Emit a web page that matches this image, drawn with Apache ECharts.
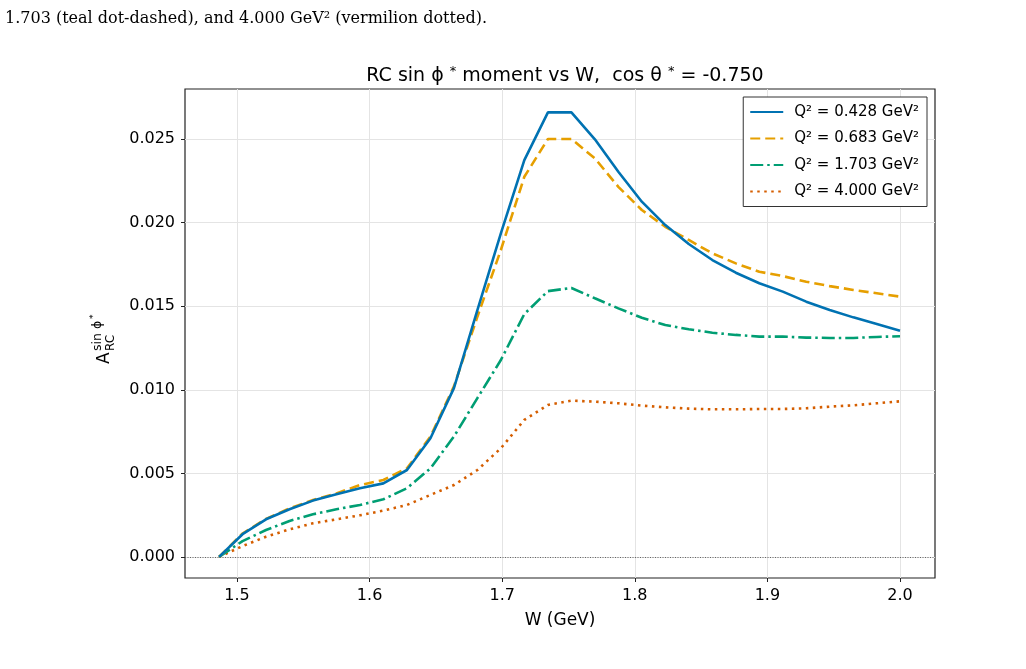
<!DOCTYPE html>
<html>
<head>
<meta charset="utf-8">
<title>RC sin phi moment vs W</title>
<script src="https://cdn.jsdelivr.net/npm/echarts@6/dist/echarts.min.js"></script>
<style>
  html, body { margin: 0; padding: 0; background: #ffffff; }
  #chart { width: 1026px; height: 669px; }
</style>
</head>
<body>
<div id="chart"></div>
<script>
// W grid (GeV)
const wValues = [
  1.4865, 1.5042, 1.5219, 1.5396, 1.5573, 1.5750, 1.5927, 1.6104, 1.6282, 1.6459,
  1.6636, 1.6813, 1.6990, 1.7167, 1.7345, 1.7522, 1.7699, 1.7876, 1.8053, 1.8230,
  1.8407, 1.8585, 1.8762, 1.8939, 1.9116, 1.9293, 1.9470, 1.9648, 1.9825, 2.0000
];

// A_RC^{sin phi*}, one array per Q^2
const q2_0428 = [
  0.0000, 0.00136, 0.00225, 0.00285, 0.00337, 0.00375, 0.00411, 0.00440, 0.00520, 0.00710,
  0.01010, 0.01477, 0.01936, 0.02374, 0.02659, 0.02659, 0.02498, 0.02304, 0.02125, 0.01985,
  0.01872, 0.01776, 0.01700, 0.01637, 0.01587, 0.01527, 0.01477, 0.01433, 0.01393, 0.01353
];
const q2_0683 = [
  0.0000, 0.00140, 0.00228, 0.00290, 0.00340, 0.00380, 0.00430, 0.00460, 0.00530, 0.00720,
  0.01020, 0.01437, 0.01836, 0.02274, 0.02500, 0.02500, 0.02384, 0.02214, 0.02075, 0.01975,
  0.01896, 0.01816, 0.01756, 0.01706, 0.01680, 0.01646, 0.01620, 0.01597, 0.01577, 0.01557
];
const q2_1703 = [
  0.0000, 0.00095, 0.00161, 0.00215, 0.00255, 0.00285, 0.00311, 0.00345, 0.00411, 0.00530,
  0.00720, 0.00950, 0.01178, 0.01453, 0.01590, 0.01609, 0.01547, 0.01487, 0.01431, 0.01387,
  0.01362, 0.01341, 0.01328, 0.01318, 0.01318, 0.01312, 0.01310, 0.01310, 0.01316, 0.01320
];
const q2_4000 = [
  0.0000, 0.00065, 0.00121, 0.00165, 0.00201, 0.00225, 0.00249, 0.00277, 0.00311, 0.00371,
  0.00430, 0.00520, 0.00650, 0.00820, 0.00909, 0.00935, 0.00929, 0.00919, 0.00905, 0.00895,
  0.00887, 0.00883, 0.00883, 0.00885, 0.00885, 0.00889, 0.00899, 0.00907, 0.00919, 0.00931
];

const seriesNames = ['Q² = 0.428 GeV²', 'Q² = 0.683 GeV²', 'Q² = 1.703 GeV²', 'Q² = 4.000 GeV²'];
const seriesColors = ['#0072B2', '#E69F00', '#009E73', '#D55E00'];
const seriesDash = ['solid', [10, 5], [13, 4, 2.5, 4], [2.5, 4.5]];

const xTicks = [1.5, 1.6, 1.7, 1.8, 1.9, 2.0];
const yTicks = [0.000, 0.005, 0.010, 0.015, 0.020, 0.025];

const font = 'DejaVu Sans';
const allSeries = [q2_0428, q2_0683, q2_1703, q2_4000];

const chart = echarts.init(document.getElementById('chart'));

const series = allSeries.map((vals, k) => ({
  name: seriesNames[k],
  type: 'line',
  data: vals.map((v, i) => [wValues[i], v]),
  showSymbol: false,
  symbol: 'none',
  z: 10 - k,
  lineStyle: { color: seriesColors[k], width: 2.6, type: seriesDash[k], cap: 'butt' },
  itemStyle: { color: seriesColors[k] },
  emphasis: { disabled: true },
}));

// dotted zero line
series[0].markLine = {
  silent: true,
  symbol: 'none',
  label: { show: false },
  lineStyle: { color: '#444', width: 0.8, type: [1, 1.5] },
  data: [{ yAxis: 0 }],
  z: 1,
};

const option = {
  backgroundColor: '#ffffff',
  animation: false,
  title: {
    text: 'RC sin ϕ {s|*} moment vs W,  cos θ {s|*} = -0.750',
    left: 560,
    textAlign: 'center',
    top: 60,
    textStyle: {
      fontFamily: font,
      fontSize: 19,
      fontWeight: 'normal',
      color: '#000',
      rich: {
        s: { fontFamily: font, fontSize: 13, padding: [0, 0, 10, 0], color: '#000' },
      },
    },
  },
  legend: {
    orient: 'vertical',
    right: 99,
    top: 97,
    padding: [7, 8, 7, 6],
    borderColor: '#333',
    borderWidth: 1,
    borderRadius: 0,
    backgroundColor: '#fff',
    itemWidth: 33,
    itemHeight: 14,
    itemGap: 10.5,
    itemStyle: { opacity: 0 },
    textStyle: { fontFamily: font, fontSize: 15, color: '#000', lineHeight: 16, padding: [0, 0, 0, 6] },
    data: seriesNames,
  },
  grid: {
    left: 185,
    right: 91,
    top: 89,
    bottom: 91,
    show: true,
    borderColor: '#222',
    borderWidth: 1.2,
    backgroundColor: '#fff',
  },
  xAxis: {
    type: 'value',
    min: 1.4608,
    max: 2.0264,
    name: 'W (GeV)',
    nameLocation: 'middle',
    nameGap: 34,
    nameTextStyle: { fontFamily: font, fontSize: 17, color: '#000' },
    axisLine: { show: false, onZero: false },
    axisTick: { show: true, inside: false, length: 4, customValues: xTicks, lineStyle: { color: '#222', width: 1 } },
    axisLabel: {
      customValues: xTicks,
      margin: 10,
      fontFamily: font,
      fontSize: 16,
      color: '#000',
      formatter: (v) => v.toFixed(1),
    },
    splitLine: { show: true, lineStyle: { color: '#e4e4e4', width: 1 } },
  },
  yAxis: {
    type: 'value',
    min: -0.00126,
    max: 0.02799,
    axisLine: { show: false, onZero: false },
    axisTick: { show: true, inside: false, length: 4, customValues: yTicks, lineStyle: { color: '#222', width: 1 } },
    axisLabel: {
      customValues: yTicks,
      margin: 10,
      fontFamily: font,
      fontSize: 16,
      color: '#000',
      formatter: (v) => v.toFixed(3),
    },
    splitLine: { show: true, lineStyle: { color: '#e4e4e4', width: 1 } },
  },
  graphic: [
    {
      // y axis label A_RC^{sin phi*}, drawn rotated
      type: 'group',
      x: 113,
      y: 364,
      rotation: Math.PI / 2,
      children: [
        { type: 'text', x: 0, y: 0, style: { text: 'A', font: '17px "DejaVu Sans"', fill: '#000', textVerticalAlign: 'bottom' } },
        { type: 'text', x: 13, y: 4, style: { text: 'RC', font: '12px "DejaVu Sans"', fill: '#000', textVerticalAlign: 'bottom' } },
        { type: 'text', x: 13, y: -9, style: { text: 'sin ϕ', font: '12.5px "DejaVu Sans"', fill: '#000', textVerticalAlign: 'bottom' } },
        { type: 'text', x: 45, y: -15, style: { text: '*', font: '9px "DejaVu Sans"', fill: '#000', textVerticalAlign: 'bottom' } },
      ],
    },
    {
      // caption fragment from the page above the figure
      type: 'text',
      left: 5,
      top: 11,
      style: {
        text: '1.703 (teal dot-dashed), and 4.000 GeV² (vermilion dotted).',
        font: '16px "DejaVu Serif"',
        fill: '#000',
      },
    },
  ],
  series: series,
};

chart.setOption(option);
window.addEventListener('resize', () => chart.resize());
</script>
</body>
</html>
